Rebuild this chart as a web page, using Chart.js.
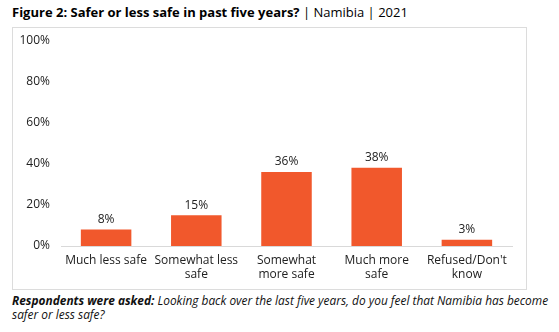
<!DOCTYPE html>
<html>
<head>
<meta charset="utf-8">
<script src="https://cdn.jsdelivr.net/npm/chart.js@4"></script>
<style>
  body { margin: 0; background: #fff; font-family: "Open Sans", sans-serif; color: #000; }
  #title { position: absolute; left: 12px; top: 3px; font-size: 13px; white-space: nowrap; }
  #title b { font-weight: 700; }
  #frame { position: absolute; left: 12px; top: 27px; width: 513px; height: 261px; border: 1px solid #dcdcdc; }
  #frame canvas { display: block; position: absolute; left: 0; top: -6px; }
  #note { position: absolute; left: 12px; top: 293px; font-size: 11.9px; font-style: italic; line-height: 14px; white-space: nowrap; color: #111; }
</style>
</head>
<body>
<div id="title"><b>Figure 2: Safer or less safe in past five years?</b> | Namibia | 2021</div>
<div id="frame"><canvas id="myChart" width="513" height="267"></canvas></div>
<div id="note"><b>Respondents were asked:</b> Looking back over the last five years, do you feel that Namibia has become<br>safer or less safe?</div>
<script>
let categories = [
  ["Much less safe"],
  ["Somewhat less", "safe"],
  ["Somewhat", "more safe"],
  ["Much more", "safe"],
  ["Refused/Don't", "know"],
];
let shares = [8, 15, 36, 38, 3];
let yTicks = [0, 20, 40, 60, 80, 100];

const ctx = document.getElementById("myChart");

// value labels above each bar
const barLabels = {
  id: "barLabels",
  afterDatasetsDraw(chart) {
    const c = chart.ctx;
    const meta = chart.getDatasetMeta(0);
    c.save();
    c.font = "12px 'Open Sans'";
    c.fillStyle = "#222";
    c.textAlign = "center";
    c.textBaseline = "bottom";
    meta.data.forEach((bar, i) => {
      c.fillText(shares[i] + "%", bar.x, bar.y - 4);
    });
    c.restore();
  },
};

new Chart(ctx, {
  type: "bar",
  data: {
    labels: categories,
    datasets: [
      {
        data: shares,
        backgroundColor: "#f1582c",
        categoryPercentage: 1,
        barPercentage: 0.56,
      },
    ],
  },
  options: {
    responsive: false,
    animation: false,
    layout: { padding: { top: 5, right: 14, left: 0, bottom: 0 } },
    plugins: { legend: { display: false }, tooltip: { enabled: false } },
    scales: {
      x: {
        grid: { display: false, drawTicks: false },
        border: { color: "#d9d9d9" },
        ticks: {
          color: "#222",
          font: { family: "Open Sans", size: 12 },
          padding: 7,
          maxRotation: 0,
          autoSkip: false,
        },
        afterFit(s) { s.height = 43; },
      },
      y: {
        min: 0,
        max: 100,
        afterBuildTicks(s) { s.ticks = yTicks.map((v) => ({ value: v })); },
        grid: { display: false, drawTicks: false },
        border: { display: false },
        ticks: {
          color: "#222",
          font: { family: "Open Sans", size: 12 },
          padding: 11,
          callback: (v) => v + "%",
        },
        afterFit(s) { s.width = 48; },
      },
    },
  },
  plugins: [barLabels],
});
</script>
</body>
</html>
